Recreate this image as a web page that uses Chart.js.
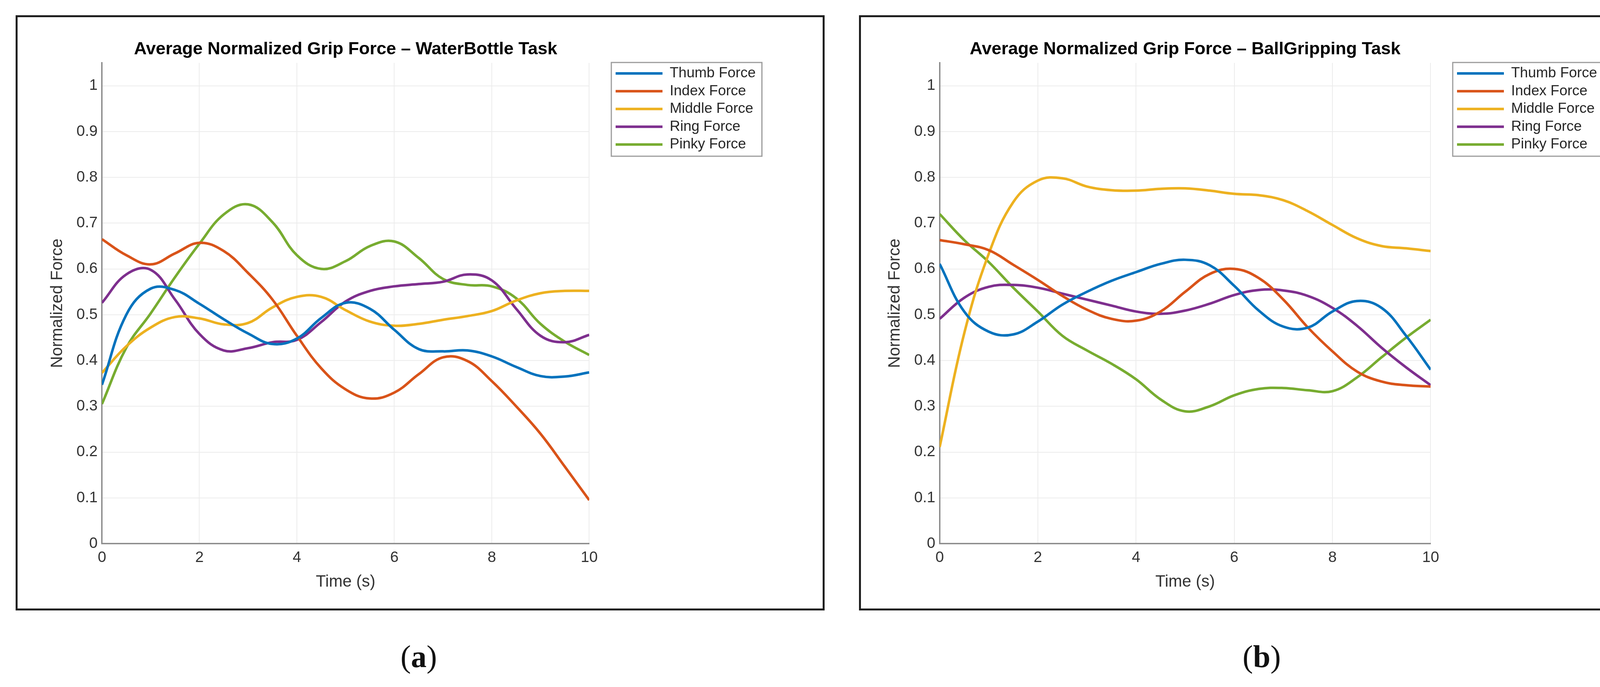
<!DOCTYPE html>
<html>
<head>
<meta charset="utf-8">
<script src="https://cdn.jsdelivr.net/npm/chart.js@4.4.1/dist/chart.umd.min.js"></script>
<style>
  html, body { margin: 0; padding: 0; background: #fff; }
  body { position: relative; width: 4303px; height: 1759px; overflow: hidden; }
  .frame { position: absolute; box-sizing: border-box; border: 5px solid #1e1e1e; }
  canvas { position: absolute; top: 0; }
  .panel-tag {
    position: absolute; top: 1641px; transform: translateX(-50%);
    font-family: "Liberation Serif", "DejaVu Serif", serif; font-size: 80px; line-height: 80px; color: #111;
  }
  .panel-tag b { font-weight: bold; }
</style>
</head>
<body>
<div class="frame" style="left:40px; top:39px; width:2071px; height:1524px;"></div>
<div class="frame" style="left:2199px; top:39px; width:2069px; height:1524px;"></div>
<canvas id="waterChart" width="2150" height="1759" style="left:0"></canvas>
<canvas id="ballChart" width="2153" height="1759" style="left:2150px"></canvas>
<div class="panel-tag" style="left:1072px">(<b>a</b>)</div>
<div class="panel-tag" style="left:3230px">(<b>b</b>)</div>

<script>
const timeS = [0, 0.5, 1, 1.5, 2, 2.5, 3, 3.5, 4, 4.5, 5, 5.5, 6, 6.5, 7, 7.5, 8, 8.5, 9, 9.5, 10];
const fingerNames = ["Thumb Force", "Index Force", "Middle Force", "Ring Force", "Pinky Force"];

// WaterBottle task
const waterThumb = [0.347, 0.500, 0.557, 0.554, 0.524, 0.490, 0.459, 0.436, 0.448, 0.493, 0.526, 0.513, 0.467, 0.425, 0.420, 0.422, 0.409, 0.386, 0.366, 0.365, 0.374];
const waterIndex = [0.665, 0.630, 0.610, 0.634, 0.657, 0.639, 0.591, 0.533, 0.454, 0.383, 0.337, 0.317, 0.330, 0.370, 0.407, 0.399, 0.355, 0.300, 0.240, 0.168, 0.095];
const waterMiddle = [0.373, 0.431, 0.472, 0.495, 0.492, 0.479, 0.482, 0.516, 0.539, 0.539, 0.510, 0.485, 0.476, 0.480, 0.489, 0.497, 0.508, 0.531, 0.547, 0.552, 0.552];
const waterRing = [0.526, 0.588, 0.598, 0.533, 0.458, 0.422, 0.427, 0.440, 0.445, 0.484, 0.529, 0.552, 0.562, 0.567, 0.572, 0.588, 0.575, 0.513, 0.454, 0.440, 0.456];
const waterPinky = [0.305, 0.428, 0.503, 0.582, 0.655, 0.719, 0.741, 0.702, 0.630, 0.600, 0.617, 0.650, 0.660, 0.624, 0.578, 0.565, 0.562, 0.536, 0.480, 0.441, 0.412];

// BallGripping task
const ballThumb = [0.611, 0.507, 0.463, 0.457, 0.485, 0.522, 0.550, 0.574, 0.593, 0.611, 0.620, 0.608, 0.563, 0.509, 0.474, 0.472, 0.507, 0.530, 0.515, 0.454, 0.380];
const ballIndex = [0.663, 0.654, 0.641, 0.609, 0.576, 0.541, 0.511, 0.491, 0.487, 0.507, 0.550, 0.589, 0.600, 0.580, 0.533, 0.472, 0.420, 0.376, 0.354, 0.346, 0.343];
const ballMiddle = [0.211, 0.459, 0.633, 0.746, 0.793, 0.798, 0.780, 0.772, 0.771, 0.775, 0.776, 0.771, 0.764, 0.761, 0.750, 0.726, 0.696, 0.667, 0.650, 0.645, 0.639];
const ballRing = [0.491, 0.537, 0.561, 0.565, 0.559, 0.546, 0.533, 0.520, 0.507, 0.502, 0.509, 0.524, 0.543, 0.554, 0.553, 0.541, 0.515, 0.476, 0.428, 0.385, 0.346];
const ballPinky = [0.720, 0.663, 0.615, 0.559, 0.507, 0.454, 0.422, 0.393, 0.359, 0.315, 0.289, 0.300, 0.324, 0.338, 0.340, 0.335, 0.333, 0.363, 0.407, 0.450, 0.489];

const lineColors = ["#0072BD", "#D95319", "#EDB120", "#7E2F8E", "#77AC30"];
const FONT = "'Liberation Sans', Arial, Helvetica, sans-serif";
const TEXT = "#333333";

// plot box edges in canvas px, tuned against the figure
const PLOT_TOP = 161, PLOT_BOTTOM = 1392;
const Y_AXIS_W = 143.2, X_AXIS_H = 127.2, LEGEND_GAP = 59;
const LEGEND_FONT = 37, LEGEND_PAD = 8.5, LEGEND_LINE = 120;

const legendFrame = {
  id: "legendFrame",
  afterDraw(chart) {
    const boxes = chart.legend && chart.legend.legendHitBoxes;
    if (!boxes || !boxes.length) return;
    const first = boxes[0];
    const last = boxes[boxes.length - 1];
    const left = first.left - 11;
    const right = Math.max(...boxes.map((b) => b.left + b.width)) + 16;
    const top = first.top - 9.5;
    const bottom = last.top + last.height + 11.5;
    const ctx = chart.ctx;
    ctx.save();
    ctx.strokeStyle = "#9c9c9c";
    ctx.lineWidth = 3;
    ctx.strokeRect(left, top, right - left, bottom - top);
    ctx.restore();
  },
};

// same sum the legend does in fit(), so the plot box lands where we want it
function legendWidth(ctx) {
  ctx.font = `${LEGEND_FONT}px ${FONT}`;
  const widest = Math.max(...fingerNames.map((n) => ctx.measureText(n).width));
  return LEGEND_PAD + LEGEND_LINE + LEGEND_FONT / 2 + widest + 10;
}

function makeChart(canvasId, title, seriesList, plotLeft, plotRight) {
  const canvas = document.getElementById(canvasId);
  const ctx = canvas.getContext("2d");
  const legendW = Math.ceil(legendWidth(ctx)) + 2;
  const padLeft = plotLeft - Y_AXIS_W;
  const padRight = canvas.width - plotRight - LEGEND_GAP - legendW;

  return new Chart(ctx, {
    type: "line",
    data: {
      datasets: seriesList.map((values, i) => ({
        label: fingerNames[i],
        data: timeS.map((t, k) => ({ x: t, y: values[k] })),
        borderColor: lineColors[i],
        backgroundColor: lineColors[i],
        borderWidth: 6.5,
        pointRadius: 0,
        tension: 0.4,
        fill: false,
      })),
    },
    options: {
      responsive: false,
      animation: false,
      devicePixelRatio: 1,
      layout: { padding: { top: 0, left: padLeft, right: padRight, bottom: canvas.height - PLOT_BOTTOM - X_AXIS_H } },
      plugins: {
        tooltip: { enabled: false },
        title: {
          display: true,
          text: title,
          fullSize: false,
          color: "#000",
          font: { family: FONT, size: 45, weight: "bold", lineHeight: 1.2 },
          padding: { top: 100, bottom: PLOT_TOP - 100 - 54 },
        },
        legend: {
          position: "right",
          align: "start",
          fullSize: false,
          maxWidth: legendW,
          labels: {
            usePointStyle: true,
            pointStyle: "line",
            pointStyleWidth: LEGEND_LINE,
            padding: LEGEND_PAD,
            color: "#262626",
            font: { family: FONT, size: LEGEND_FONT },
          },
        },
      },
      scales: {
        x: {
          type: "linear",
          min: 0,
          max: 10,
          ticks: {
            stepSize: 2,
            padding: 13,
            color: TEXT,
            font: { family: FONT, size: 39 },
            callback: (v) => String(v),
          },
          grid: { color: "#ececec", lineWidth: 2, drawTicks: false },
          border: { display: true, color: "#8a8a8a", width: 3.5 },
          title: { display: true, text: "Time (s)", color: TEXT, font: { family: FONT, size: 42, lineHeight: 1.2 }, padding: { top: 4, bottom: 4 } },
          afterFit: (scale) => { scale.height = X_AXIS_H; },
        },
        y: {
          type: "linear",
          min: 0,
          max: 1.05,
          ticks: {
            stepSize: 0.1,
            includeBounds: false,
            padding: 11,
            color: TEXT,
            font: { family: FONT, size: 39 },
            callback: (v) => String(Math.round(v * 10) / 10),
          },
          grid: { color: "#ececec", lineWidth: 2, drawTicks: false },
          border: { display: true, color: "#8a8a8a", width: 3.5 },
          title: { display: true, text: "Normalized Force", color: TEXT, font: { family: FONT, size: 42, lineHeight: 1.2 }, padding: { top: 4, bottom: 4 } },
          afterFit: (scale) => { scale.width = Y_AXIS_W; },
        },
        // empty right axis only keeps the legend clear of the plot box
        gap: {
          type: "linear",
          position: "right",
          display: true,
          grid: { display: false },
          border: { display: false },
          ticks: { display: false },
          afterFit: (scale) => { scale.width = LEGEND_GAP; },
        },
      },
    },
    plugins: [legendFrame],
  });
}

makeChart(
  "waterChart",
  "Average Normalized Grip Force \u2013 WaterBottle Task",
  [waterThumb, waterIndex, waterMiddle, waterRing, waterPinky],
  261, 1505.5,
);
makeChart(
  "ballChart",
  "Average Normalized Grip Force \u2013 BallGripping Task",
  [ballThumb, ballIndex, ballMiddle, ballRing, ballPinky],
  255.5, 1509.5,
);
</script>
</body>
</html>
